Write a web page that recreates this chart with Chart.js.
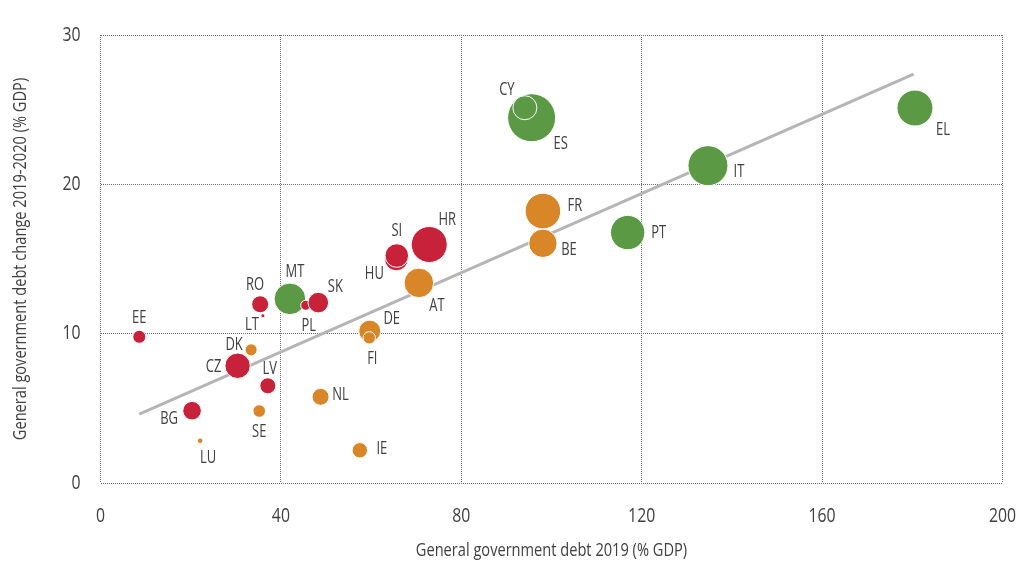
<!DOCTYPE html>
<html>
<head>
<meta charset="utf-8">
<script src="https://cdn.jsdelivr.net/npm/chart.js@4.4.1/dist/chart.umd.min.js"></script>
<style>
html,body{margin:0;padding:0;background:#fff;}
#wrap{width:1016px;height:563px;}
</style>
</head>
<body>
<div id="wrap"><canvas id="c" width="1016" height="563"></canvas></div>
<script>
// ---- Data ----
const redCodes   = ['EE','RO','LT','BG','CZ','LV','PL','SK','HU','SI','HR'];
const redDebt    = [8.6, 35.4, 36.0, 20.3, 30.4, 37.1, 45.5, 48.3, 65.6, 65.7, 72.9];
const redChange  = [9.79, 11.97, 11.2, 4.84, 7.85, 6.51, 11.9, 12.08, 15.0, 15.23, 15.97];
const redSize    = [6.5, 8.5, 2, 9.3, 12.7, 8, 5, 10.3, 11.8, 11.8, 18];

const orangeCodes  = ['DK','SE','LU','NL','IE','DE','FI','AT','FR','BE'];
const orangeDebt   = [33.4, 35.2, 22.1, 48.8, 57.5, 59.7, 59.6, 70.6, 98.1, 98.1];
const orangeChange = [8.92, 4.82, 2.83, 5.77, 2.19, 10.17, 9.72, 13.4, 18.21, 16.05];
const orangeSize   = [6, 6.3, 2.8, 8.5, 7.7, 11, 6.2, 14.8, 17.8, 14.2];

const greenCodes  = ['MT','ES','CY','PT','IT','EL'];
const greenDebt   = [42.0, 95.6, 94.1, 116.9, 134.7, 180.6];
const greenChange = [12.33, 24.46, 25.13, 16.77, 21.25, 25.11];
const greenSize   = [15.8, 24, 12, 17.2, 20, 18];

const trendDebt   = [8.6, 180.3];
const trendChange = [4.62, 27.38];

const xTicks = [0, 40, 80, 120, 160, 200];
const yTicks = [0, 10, 20, 30];
const xTitle = 'General government debt 2019 (% GDP)';
const yTitle = 'General government debt change 2019-2020 (% GDP)';

// ---- Styles ----
const FONT = "'Open Sans', 'Liberation Sans', sans-serif";
const TEXT = '#404040';
const COLORS = {red:'#C8223A', orange:'#D98628', green:'#5B9944'};
const TEXT_SCALE = 0.79;   // horizontal condensing of axis text
const LABEL_SCALE = 0.70;  // horizontal condensing of bubble labels
const labelOffsets = {
  EE:[0,-19], RO:[-5,-20], LT:[-11,9], MT:[5,-27], PL:[3,20], SK:[17,-16],
  DK:[-17,-5], CZ:[-24,1], LV:[2,-17], BG:[-23,8], SE:[0,21], LU:[8,17],
  NL:[20,-2], IE:[22,-2], DE:[22,-12], FI:[3,21], AT:[18,23], HU:[-22,15],
  SI:[0,-25], HR:[18,-25], CY:[-18,-18], ES:[29,26], FR:[32,-5], BE:[26,6],
  PT:[31,0], IT:[31,6], EL:[28,22]
};

// condensed text rendering (text stays real canvas text)
const canvas = document.getElementById('c');
const c2d = canvas.getContext('2d');
const origFill = c2d.fillText.bind(c2d);
const origMeasure = c2d.measureText.bind(c2d);
let curScale = TEXT_SCALE;
c2d.fillText = function(t, x, y){
  this.save();
  this.translate(x, y);
  this.scale(curScale, 1);
  origFill(t, 0, 0);
  this.restore();
};
c2d.measureText = function(t){
  const m = origMeasure(t);
  return {width: m.width * curScale,
          actualBoundingBoxAscent: m.actualBoundingBoxAscent,
          actualBoundingBoxDescent: m.actualBoundingBoxDescent,
          actualBoundingBoxLeft: m.actualBoundingBoxLeft * curScale,
          actualBoundingBoxRight: m.actualBoundingBoxRight * curScale};
};

function pts(xs, ys, rs, codes){
  return xs.map((x,i)=>({x:x, y:ys[i], r:rs[i], code:codes[i]}));
}

const labelPlugin = {
  id:'bubbleLabels',
  afterDatasetsDraw(chart){
    const ctx = chart.ctx;
    ctx.save();
    curScale = LABEL_SCALE;
    ctx.font = "18.5px " + FONT;
    ctx.fillStyle = TEXT;
    ctx.textAlign = 'center';
    ctx.textBaseline = 'middle';
    chart.data.datasets.forEach((ds, di)=>{
      if (ds.type !== 'bubble') return;
      const meta = chart.getDatasetMeta(di);
      meta.data.forEach((el, i)=>{
        const code = ds.data[i].code;
        const off = labelOffsets[code] || [0,0];
        ctx.fillText(code, el.x + off[0], el.y + off[1]);
      });
    });
    curScale = TEXT_SCALE;
    ctx.restore();
  }
};

new Chart(canvas, {
  type:'bubble',
  data:{
    datasets:[
      {type:'bubble', label:'red', data:pts(redDebt, redChange, redSize, redCodes),
       backgroundColor:COLORS.red, borderColor:'#ffffff', borderWidth:1},
      {type:'bubble', label:'orange', data:pts(orangeDebt, orangeChange, orangeSize, orangeCodes),
       backgroundColor:COLORS.orange, borderColor:'#ffffff', borderWidth:1},
      {type:'bubble', label:'green', data:pts(greenDebt, greenChange, greenSize, greenCodes),
       backgroundColor:COLORS.green, borderColor:'#ffffff', borderWidth:1},
      {type:'line', label:'trend', data:trendDebt.map((x,i)=>({x:x, y:trendChange[i]})),
       borderColor:'#b5b5b9', borderWidth:3, pointRadius:0, fill:false, tension:0}
    ]
  },
  options:{
    responsive:false,
    animation:false,
    events:[],
    devicePixelRatio:1,
    layout:{autoPadding:false, padding:{top:35, right:0, bottom:0, left:0}},
    plugins:{legend:{display:false}, tooltip:{enabled:false}},
    scales:{
      x:{type:'linear', position:'bottom', min:0, max:200,
         afterBuildTicks(s){ s.ticks = xTicks.map(v=>({value:v})); },
         afterFit(s){ s.height = 80; },
         ticks:{color:TEXT, font:{family:FONT, size:20}, padding:0},
         grid:{color:'#6a6a6a', lineWidth:1, drawTicks:true, tickLength:21, tickColor:'rgba(0,0,0,0)'},
         border:{display:false, dash:[1,1]},
         title:{display:true, text:xTitle, color:TEXT, font:{family:FONT, size:18.5}, padding:{top:0,bottom:1}}
      },
      y:{type:'linear', position:'left', min:0, max:30,
         afterBuildTicks(s){ s.ticks = yTicks.map(v=>({value:v})); },
         afterFit(s){ s.width = 100.5; },
         ticks:{color:TEXT, font:{family:FONT, size:20}, padding:20},
         grid:{color:'#6a6a6a', lineWidth:1, drawTicks:false},
         border:{display:false, dash:[1,1]},
         title:{display:true, text:yTitle, color:TEXT, font:{family:FONT, size:18.5}, padding:{top:10,bottom:0}}
      }
    }
  },
  plugins:[labelPlugin]
});
</script>
</body>
</html>
